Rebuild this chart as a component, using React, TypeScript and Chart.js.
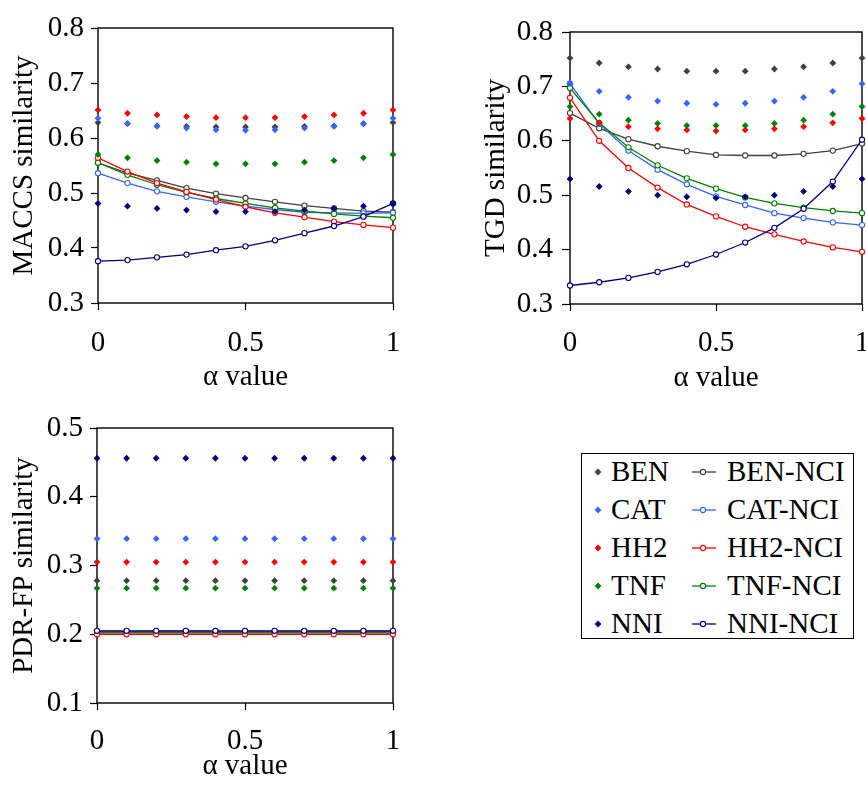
import React, { useEffect, useRef } from "react";
import { Chart, registerables } from "chart.js";

Chart.register(...registerables);

const FONT = "'Liberation Serif', 'Times New Roman', Times, serif";
const FONT_SIZE = 29;

// ---------- data ----------
const alphaValues = [0, 0.1, 0.2, 0.3, 0.4, 0.5, 0.6, 0.7, 0.8, 0.9, 1];
const xTickValues = [0, 0.5, 1];
const compoundNames = ["BEN", "CAT", "HH2", "TNF", "NNI"];
const nciNames = ["BEN-NCI", "CAT-NCI", "HH2-NCI", "TNF-NCI", "NNI-NCI"];

// MACCS similarity
const maccsBEN = [0.628, 0.626, 0.622, 0.621, 0.62, 0.62, 0.62, 0.621, 0.622, 0.626, 0.628];
const maccsCAT = [0.636, 0.626, 0.621, 0.618, 0.615, 0.614, 0.615, 0.618, 0.621, 0.626, 0.636];
const maccsHH2 = [0.651, 0.645, 0.642, 0.639, 0.637, 0.637, 0.637, 0.639, 0.642, 0.645, 0.651];
const maccsTNF = [0.57, 0.564, 0.559, 0.556, 0.553, 0.553, 0.553, 0.556, 0.559, 0.564, 0.57];
const maccsNNI = [0.481, 0.476, 0.472, 0.469, 0.466, 0.466, 0.466, 0.469, 0.472, 0.476, 0.481];
const maccsBENNCI = [0.555, 0.536, 0.523, 0.509, 0.499, 0.491, 0.484, 0.477, 0.472, 0.467, 0.465];
const maccsCATNCI = [0.536, 0.518, 0.503, 0.493, 0.484, 0.476, 0.47, 0.465, 0.464, 0.463, 0.464];
const maccsHH2NCI = [0.564, 0.539, 0.518, 0.502, 0.488, 0.475, 0.464, 0.456, 0.448, 0.442, 0.437];
const maccsTNFNCI = [0.555, 0.533, 0.515, 0.501, 0.49, 0.481, 0.473, 0.467, 0.462, 0.458, 0.455];
const maccsNNINCI = [0.376, 0.378, 0.383, 0.388, 0.396, 0.403, 0.414, 0.427, 0.44, 0.457, 0.481];

// TGD similarity
const tgdBEN = [0.752, 0.743, 0.736, 0.732, 0.728, 0.728, 0.728, 0.732, 0.736, 0.743, 0.752];
const tgdCAT = [0.705, 0.691, 0.68, 0.673, 0.669, 0.667, 0.669, 0.673, 0.68, 0.691, 0.705];
const tgdHH2 = [0.641, 0.633, 0.626, 0.622, 0.62, 0.618, 0.62, 0.622, 0.626, 0.633, 0.641];
const tgdTNF = [0.663, 0.649, 0.638, 0.632, 0.628, 0.628, 0.628, 0.632, 0.638, 0.649, 0.663];
const tgdNNI = [0.53, 0.516, 0.507, 0.5, 0.497, 0.495, 0.497, 0.5, 0.507, 0.516, 0.53];
const tgdBENNCI = [0.651, 0.623, 0.603, 0.59, 0.581, 0.574, 0.573, 0.573, 0.576, 0.582, 0.595];
const tgdCATNCI = [0.705, 0.631, 0.582, 0.547, 0.52, 0.498, 0.482, 0.467, 0.458, 0.45, 0.445];
const tgdHH2NCI = [0.679, 0.6, 0.55, 0.514, 0.483, 0.461, 0.442, 0.428, 0.415, 0.404, 0.396];
const tgdTNFNCI = [0.697, 0.633, 0.588, 0.555, 0.531, 0.512, 0.496, 0.485, 0.477, 0.471, 0.467];
const tgdNNINCI = [0.334, 0.34, 0.348, 0.359, 0.373, 0.391, 0.413, 0.44, 0.475, 0.525, 0.602];

// PDR-FP similarity
const pdrBEN = [0.278, 0.278, 0.278, 0.278, 0.278, 0.278, 0.278, 0.278, 0.278, 0.278, 0.278];
const pdrCAT = [0.339, 0.339, 0.339, 0.339, 0.339, 0.339, 0.339, 0.339, 0.339, 0.339, 0.339];
const pdrHH2 = [0.305, 0.305, 0.305, 0.305, 0.305, 0.305, 0.305, 0.305, 0.305, 0.305, 0.305];
const pdrTNF = [0.267, 0.267, 0.267, 0.267, 0.267, 0.267, 0.267, 0.267, 0.267, 0.267, 0.267];
const pdrNNI = [0.456, 0.456, 0.456, 0.456, 0.456, 0.456, 0.456, 0.456, 0.456, 0.456, 0.456];
const pdrBENNCI = [0.204, 0.204, 0.204, 0.204, 0.204, 0.204, 0.204, 0.204, 0.204, 0.204, 0.204];
const pdrCATNCI = [0.203, 0.203, 0.203, 0.203, 0.203, 0.203, 0.203, 0.203, 0.203, 0.203, 0.203];
const pdrHH2NCI = [0.2, 0.2, 0.2, 0.2, 0.2, 0.2, 0.2, 0.2, 0.2, 0.2, 0.2];
const pdrTNFNCI = [0.202, 0.202, 0.202, 0.202, 0.202, 0.202, 0.202, 0.202, 0.202, 0.202, 0.202];
const pdrNNINCI = [0.205, 0.205, 0.205, 0.205, 0.205, 0.205, 0.205, 0.205, 0.205, 0.205, 0.205];

// ---------- styles ----------
const COLORS = ["#404040", "#3366ff", "#ff0000", "#008000", "#000080"];
const DIAMOND_ORDER = [6, 5, 4, 3, 2];
const LINE_ORDER = [14, 13, 11, 12, 10];

type Panel = {
  key: string;
  left: number;
  top: number;
  width: number;
  height: number;
  area: { left: number; top: number; right: number; bottom: number };
  yMin: number;
  yMax: number;
  yTitle: string;
  points: number[][];
  lines: number[][];
  yTickLen: number;
  yTickPad: number;
  xTickPad: number;
  yTitlePad: number;
  xTitlePad: number;
};

const panels: Panel[] = [
  {
    key: "maccs",
    left: 0, top: 0, width: 420, height: 400,
    area: { left: 98, top: 28, right: 393, bottom: 303 },
    yMin: 0.3, yMax: 0.8, yTitle: "MACCS similarity",
    points: [maccsBEN, maccsCAT, maccsHH2, maccsTNF, maccsNNI],
    lines: [maccsBENNCI, maccsCATNCI, maccsHH2NCI, maccsTNFNCI, maccsNNINCI],
    yTickLen: 7, yTickPad: 7, xTickPad: 16, yTitlePad: 7, xTitlePad: 5,
  },
  {
    key: "tgd",
    left: 470, top: 0, width: 420, height: 400,
    area: { left: 570, top: 32, right: 862, bottom: 304 },
    yMin: 0.3, yMax: 0.8, yTitle: "TGD similarity",
    points: [tgdBEN, tgdCAT, tgdHH2, tgdTNF, tgdNNI],
    lines: [tgdBENNCI, tgdCATNCI, tgdHH2NCI, tgdTNFNCI, tgdNNINCI],
    yTickLen: 8, yTickPad: 9, xTickPad: 15, yTitlePad: 9, xTitlePad: 4,
  },
  {
    key: "pdr",
    left: 0, top: 400, width: 420, height: 385,
    area: { left: 97, top: 428, right: 393, bottom: 703 },
    yMin: 0.1, yMax: 0.5, yTitle: "PDR-FP similarity",
    points: [pdrBEN, pdrCAT, pdrHH2, pdrTNF, pdrNNI],
    lines: [pdrBENNCI, pdrCATNCI, pdrHH2NCI, pdrTNFNCI, pdrNNINCI],
    yTickLen: 7, yTickPad: 7, xTickPad: 14, yTitlePad: 7, xTitlePad: 1,
  },
];

const framePlugin = {
  id: "frame",
  beforeDatasetsDraw(chart: any) {
    const { ctx, chartArea: a } = chart;
    ctx.save();
    ctx.strokeStyle = "#000";
    ctx.lineWidth = 1.4;
    ctx.strokeRect(a.left, a.top, a.right - a.left, a.bottom - a.top);
    ctx.restore();
  },
};

function buildConfig(p: Panel): any {
  const datasets: any[] = [];
  p.points.forEach((vals, i) => {
    datasets.push({
      label: compoundNames[i],
      data: alphaValues.map((x, j) => ({ x, y: vals[j] })),
      showLine: false,
      pointStyle: "rectRot",
      pointRadius: 3.4,
      pointBorderWidth: 0,
      pointBackgroundColor: COLORS[i],
      pointBorderColor: COLORS[i],
      borderColor: COLORS[i],
      order: DIAMOND_ORDER[i],
      clip: false,
    });
  });
  p.lines.forEach((vals, i) => {
    datasets.push({
      label: nciNames[i],
      data: alphaValues.map((x, j) => ({ x, y: vals[j] })),
      showLine: true,
      borderColor: COLORS[i],
      borderWidth: 1.3,
      tension: 0,
      pointStyle: "circle",
      pointRadius: 2.6,
      pointBorderWidth: 1.1,
      pointBackgroundColor: "#ffffff",
      pointBorderColor: COLORS[i],
      order: LINE_ORDER[i],
      clip: false,
    });
  });

  const tickFont = { family: FONT, size: FONT_SIZE, lineHeight: 1.2 };
  const yAxisWidth = p.area.left - p.left;
  const xAxisHeight = p.top + p.height - p.area.bottom;

  return {
    type: "line",
    data: { datasets },
    plugins: [framePlugin],
    options: {
      responsive: false,
      animation: false,
      devicePixelRatio: 1,
      events: [],
      layout: {
        padding: {
          left: 0,
          bottom: 0,
          top: p.area.top - p.top,
          right: p.left + p.width - p.area.right,
        },
      },
      plugins: { legend: { display: false }, tooltip: { enabled: false } },
      scales: {
        x: {
          type: "linear",
          min: 0,
          max: 1,
          afterBuildTicks: (s: any) => {
            s.ticks = xTickValues.map((v) => ({ value: v }));
          },
          afterFit: (s: any) => {
            s.height = xAxisHeight;
          },
          border: { display: false },
          grid: {
            display: true,
            drawOnChartArea: false,
            drawTicks: true,
            tickLength: 7,
            tickColor: "#000",
            tickWidth: 1.2,
          },
          ticks: {
            color: "#000",
            font: tickFont,
            padding: p.xTickPad,
            maxRotation: 0,
            autoSkip: false,
            callback: (v: any) => String(Number(v)),
          },
          title: {
            display: true,
            text: "α value",
            color: "#000",
            font: { family: FONT, size: FONT_SIZE, lineHeight: 1.2 },
            padding: { top: 0, bottom: p.xTitlePad },
          },
        },
        y: {
          type: "linear",
          min: p.yMin,
          max: p.yMax,
          afterFit: (s: any) => {
            s.width = yAxisWidth;
          },
          border: { display: false },
          grid: {
            display: true,
            drawOnChartArea: false,
            drawTicks: true,
            tickLength: p.yTickLen,
            tickColor: "#000",
            tickWidth: 1.2,
          },
          ticks: {
            color: "#000",
            font: tickFont,
            padding: p.yTickPad,
            stepSize: 0.1,
            autoSkip: false,
            callback: (v: any) => Number(v).toFixed(1),
          },
          title: {
            display: true,
            text: p.yTitle,
            color: "#000",
            font: { family: FONT, size: FONT_SIZE, lineHeight: 1.2 },
            padding: { top: p.yTitlePad, bottom: 0 },
          },
        },
      },
    },
  };
}

function ChartPanel({ panel }: { panel: Panel }) {
  const ref = useRef<HTMLCanvasElement | null>(null);
  useEffect(() => {
    if (!ref.current) return;
    const chart = new Chart(ref.current, buildConfig(panel));
    return () => chart.destroy();
  }, [panel]);
  return (
    <canvas
      ref={ref}
      width={panel.width}
      height={panel.height}
      style={{
        position: "absolute",
        left: panel.left,
        top: panel.top,
        width: panel.width,
        height: panel.height,
        display: "block",
      }}
    />
  );
}

function Legend() {
  const boxLeft = 581;
  const boxTop = 453;
  const rowBaseline0 = 481;
  const rowStep = 38;
  const textStyle: React.CSSProperties = {
    position: "absolute",
    fontFamily: FONT,
    fontSize: FONT_SIZE,
    lineHeight: FONT_SIZE + "px",
    color: "#000",
    whiteSpace: "nowrap",
  };
  return (
    <>
      <div
        style={{
          position: "absolute",
          left: boxLeft,
          top: boxTop,
          width: 273,
          height: 186,
          border: "1px solid #000",
          boxSizing: "border-box",
          background: "#fff",
        }}
      />
      {compoundNames.map((name, i) => {
        const base = rowBaseline0 + i * rowStep;
        const cy = base - 9.5;
        return (
          <React.Fragment key={name}>
            <svg
              style={{ position: "absolute", left: 590, top: cy - 8, overflow: "visible" }}
              width={16}
              height={16}
            >
              <polygon points="8,4.6 11.4,8 8,11.4 4.6,8" fill={COLORS[i]} />
            </svg>
            <span style={{ ...textStyle, left: 611, top: base - 24.2 }}>{name}</span>
            <svg
              style={{ position: "absolute", left: 690, top: cy - 8, overflow: "visible" }}
              width={28}
              height={16}
            >
              <line x1={2} y1={8} x2={26} y2={8} stroke={COLORS[i]} strokeWidth={1.3} />
              <circle cx={13} cy={8} r={2.6} fill="#fff" stroke={COLORS[i]} strokeWidth={1.1} />
            </svg>
            <span style={{ ...textStyle, left: 727, top: base - 24.2 }}>{nciNames[i]}</span>
          </React.Fragment>
        );
      })}
    </>
  );
}

export default function App() {
  return (
    <div
      style={{
        position: "fixed",
        left: 0,
        top: 0,
        width: 866,
        height: 785,
        overflow: "hidden",
        background: "#fff",
      }}
    >
      {panels.map((p) => (
        <ChartPanel key={p.key} panel={p} />
      ))}
      <Legend />
    </div>
  );
}
